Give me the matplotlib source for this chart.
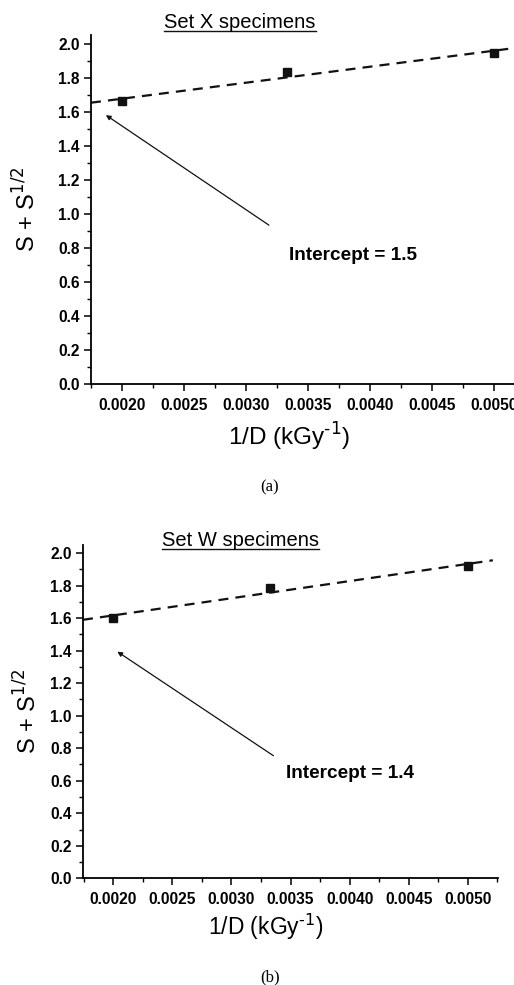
import numpy as np
import matplotlib
matplotlib.use("Agg")
import matplotlib.pyplot as plt
from matplotlib.ticker import MultipleLocator, FormatStrFormatter
from matplotlib.lines import Line2D

plt.rcParams['font.family'] = ['Liberation Sans', 'DejaVu Sans']

# Data
inv_dose = [0.0020, 0.00333, 0.0050]
set_x = [1.66, 1.83, 1.945]
set_w = [1.60, 1.788, 1.92]
titles = ["Set X specimens", "Set W specimens"]
intercept_labels = ["Intercept = 1.5", "Intercept = 1.4"]
captions = ["(a)", "(b)"]

W, H = 514, 985
fig = plt.figure(figsize=(W / 100, H / 100), dpi=100)

def px_axes(left, right, top, bottom):
    return [left / W, 1 - bottom / H, (right - left) / W, (bottom - top) / H]

ax1 = fig.add_axes(px_axes(91, 525, 35, 384.3))
ax2 = fig.add_axes(px_axes(83, 497.7, 545, 878.3))

configs = [
    (ax1, set_x, (0.00175, 0.00525), 0.0052, (0.00187, 1.58), (0.003185, 0.934), (0.00335, 0.758), 22, 487,
     (0.456, -53 / 349.3), (-64 / 434)),
    (ax2, set_w, (0.001743, 0.005254), 0.005213, (0.002034, 1.394), (0.003355, 0.754), (0.00346, 0.646), 540, 977,
     (0.441, -48.5 / 333.3), (-55 / 414.7)),
]

title_texts = []
for i, (ax, ys, xlim, xend, head, tail, tpos, ty, cy, xlc, ylx) in enumerate(configs):
    slope, icpt = np.polyfit(inv_dose, ys, 1)
    xx = np.array([xlim[0], xend])
    ax.plot(xx, icpt + slope * xx, color='#111111', lw=1.6, ls=(0, (4.5, 3.2)), clip_on=False)
    ax.plot(inv_dose, ys, 's', color='#111111', ms=5.5)
    ax.set_xlim(*xlim)
    ax.set_ylim(0, 2.05)
    for s in ['top', 'right']:
        ax.spines[s].set_visible(False)
    for s in ['left', 'bottom']:
        ax.spines[s].set_linewidth(1.3)
    ax.xaxis.set_major_locator(MultipleLocator(0.0005))
    ax.xaxis.set_minor_locator(MultipleLocator(0.00025))
    ax.yaxis.set_major_locator(MultipleLocator(0.2))
    ax.yaxis.set_minor_locator(MultipleLocator(0.1))
    ax.xaxis.set_major_formatter(FormatStrFormatter('%.4f'))
    ax.yaxis.set_major_formatter(FormatStrFormatter('%.1f'))
    ax.tick_params(which='major', length=5, width=1.1, labelsize=11.2, direction='out')
    ax.tick_params(which='minor', length=3, width=1.0, direction='out')
    for lab in ax.get_xticklabels() + ax.get_yticklabels():
        lab.set_fontweight('bold')
    ax.tick_params(axis='x', pad=5)
    ax.tick_params(axis='y', pad=3)
    ax.set_xlabel('1/D (kGy$^{\\text{-1}}$)', fontsize=17.5 if i == 0 else 16.5)
    ax.xaxis.set_label_coords(xlc[0], xlc[1])
    ax.xaxis.label.set_va('center')
    ax.set_ylabel('S + S$^{1/2}$', fontsize=17)
    ax.yaxis.set_label_coords(ylx, 0.5)
    ax.yaxis.label.set_va('center')
    ax.annotate('', xy=head, xytext=tail,
                arrowprops=dict(arrowstyle='-|>', color='#111111', lw=0.9,
                                mutation_scale=7, shrinkA=0, shrinkB=0))
    ax.text(tpos[0], tpos[1], intercept_labels[i], fontsize=13.7, fontweight='bold',
            va='center', ha='left')
    t = fig.text(240 / W, 1 - ty / H, titles[i], fontsize=14.5, ha='center', va='center')
    title_texts.append(t)
    fig.text(270 / W, 1 - cy / H, captions[i], fontsize=12, ha='center', va='center',
             family=['Liberation Serif', 'DejaVu Serif'])

fig.canvas.draw()
r = fig.canvas.get_renderer()
for t in title_texts:
    bb = t.get_window_extent(renderer=r)
    yline = bb.y0 + 1
    fig.add_artist(Line2D([bb.x0 / W, bb.x1 / W], [yline / H, yline / H],
                          transform=fig.transFigure, color='#111111', lw=1.0))

fig.savefig('out.png', dpi=100)
